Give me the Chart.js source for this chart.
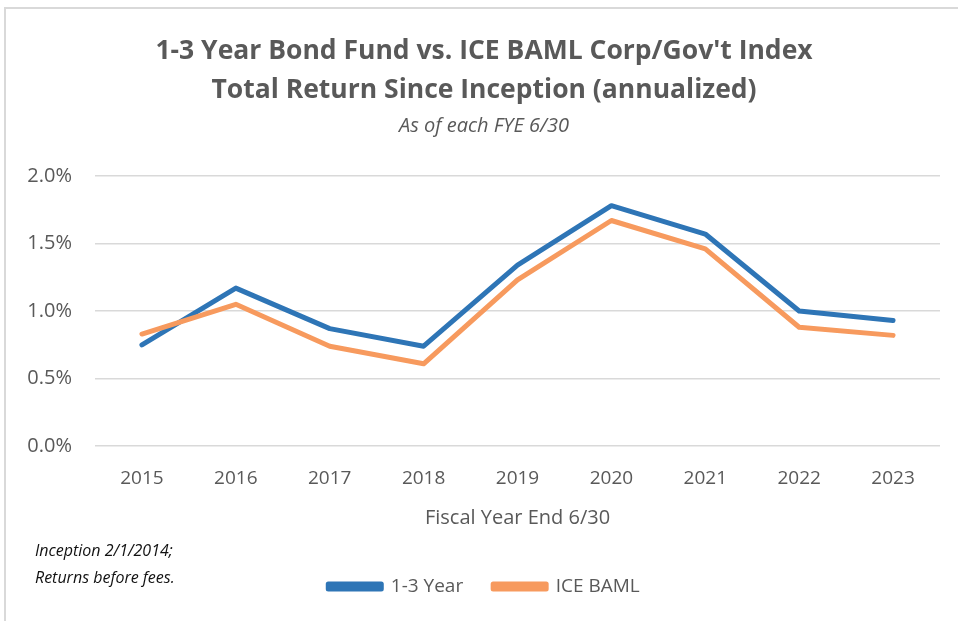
<!DOCTYPE html>
<html>
<head>
<meta charset="utf-8">
<script src="https://cdn.jsdelivr.net/npm/chart.js@4.4.0/dist/chart.umd.min.js"></script>
<style>
  html, body { margin: 0; padding: 0; background: #fff; }
  #wrap { position: relative; width: 958px; height: 621px; overflow: hidden; }
  #frame { position: absolute; left: 4px; top: 7px; width: 1000px; height: 700px; border: 2px solid #d9d9d9; }
  #box { position: absolute; left: 0; top: 0; width: 958px; height: 621px; }
</style>
</head>
<body>
<div id="wrap">
  <div id="frame"></div>
  <div id="box"><canvas id="chart"></canvas></div>
</div>
<script>
const years = ['2015', '2016', '2017', '2018', '2019', '2020', '2021', '2022', '2023']
const fundReturns = [0.75, 1.17, 0.87, 0.74, 1.34, 1.78, 1.57, 1.00, 0.93]
const indexReturns = [0.83, 1.05, 0.74, 0.61, 1.23, 1.67, 1.46, 0.88, 0.82]
const yTicks = [0, 0.5, 1.0, 1.5, 2.0]
const footnote = ['Inception 2/1/2014;', 'Returns before fees.']

const FONT = "'Open Sans', sans-serif"
const GREY = '#595959'

// footnote sits left of the legend, like the excel text box
const footnotePlugin = {
    id: 'footnote',
    afterDraw(chart) {
        const ctx = chart.ctx
        ctx.save()
        ctx.font = 'italic 16px ' + FONT
        ctx.fillStyle = '#111'
        ctx.textBaseline = 'middle'
        ctx.fillText(footnote[0], 35, 551)
        ctx.fillText(footnote[1], 35, 578)
        ctx.restore()
    }
}

const ctx = document.getElementById('chart').getContext('2d')
new Chart(ctx, {
    type: 'line',
    data: {
        labels: years,
        datasets: [
            {
                label: '1-3 Year',
                data: fundReturns,
                borderColor: '#2E75B6',
                backgroundColor: '#2E75B6',
                borderWidth: 5,
                order: 1
            },
            {
                label: 'ICE BAML',
                data: indexReturns,
                borderColor: '#F79A5E',
                backgroundColor: '#F79A5E',
                borderWidth: 5,
                order: 0
            }
        ]
    },
    options: {
        responsive: true,
        maintainAspectRatio: false,
        animation: false,
        elements: {
            point: { radius: 0, hoverRadius: 0 },
            line: { tension: 0, borderCapStyle: 'round', borderJoinStyle: 'round' }
        },
        layout: {
            padding: { top: 32, left: 28, right: 18, bottom: 15 }
        },
        scales: {
            x: {
                offset: true,
                grid: { display: false },
                border: { display: false },
                ticks: { color: GREY, font: { family: FONT, size: 19 }, padding: 13 },
                title: {
                    display: true,
                    text: 'Fiscal Year End 6/30',
                    color: GREY,
                    font: { family: FONT, size: 20, lineHeight: 1.0 },
                    padding: { top: 5, bottom: 19 }
                }
            },
            y: {
                min: 0,
                max: 2,
                afterBuildTicks(axis) {
                    axis.ticks = yTicks.map(v => ({ value: v }))
                },
                afterFit(axis) {
                    axis.width = 67
                },
                grid: { color: '#d9d9d9', lineWidth: 1.5, drawTicks: false },
                border: { display: false },
                ticks: {
                    color: GREY,
                    font: { family: FONT, size: 20 },
                    padding: 23,
                    callback: v => v.toFixed(1) + '%'
                }
            }
        },
        plugins: {
            title: {
                display: true,
                text: ['1-3 Year Bond Fund vs. ICE BAML Corp/Gov\'t Index', 'Total Return Since Inception (annualized)'],
                color: GREY,
                font: { family: FONT, size: 26.5, weight: 'bold', lineHeight: 1.47 },
                padding: { top: 0, bottom: 4 }
            },
            subtitle: {
                display: true,
                text: 'As of each FYE 6/30',
                color: GREY,
                font: { family: FONT, size: 20, style: 'italic', lineHeight: 1.2 },
                padding: { top: 0, bottom: 38 }
            },
            legend: {
                position: 'bottom',
                labels: {
                    color: GREY,
                    font: { family: FONT, size: 19 },
                    boxWidth: 53,
                    boxHeight: 5,
                    padding: 30,
                    sort: (a, b) => a.datasetIndex - b.datasetIndex
                }
            },
            tooltip: { enabled: false }
        }
    },
    plugins: [footnotePlugin]
})
</script>
</body>
</html>
